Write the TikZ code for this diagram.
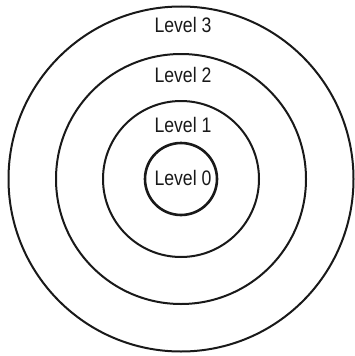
\documentclass[tikz,border=0pt]{standalone}
\usepackage{fontspec}
\setmainfont{Liberation Sans}[FakeStretch=0.84]
\begin{document}
\begin{tikzpicture}[x=1pt,y=-1pt,
  ring/.style={draw=black!90, line width=2pt},
  lbl/.style={inner sep=0pt, font=\fontsize{21}{21}\selectfont, text=black!90}]
\useasboundingbox (0,0) rectangle (354,356);
\coordinate (c) at (181,179);
\draw[ring] (c) circle[radius=172.5];
\draw[ring] (c) circle[radius=125];
\draw[ring] (c) circle[radius=78];
\draw[ring, line width=2.6pt] (c) circle[radius=36];
\node[lbl, anchor=base] (l3) at (183,32.5) {Level 3};
\node[lbl, anchor=base] (l2) at (183,82.5) {Level 2};
\node[lbl, anchor=base] (l1) at (183,132.5) {Level 1};
\node[lbl, anchor=base] (l0) at (183,185) {Level 0};
\end{tikzpicture}
\end{document}
